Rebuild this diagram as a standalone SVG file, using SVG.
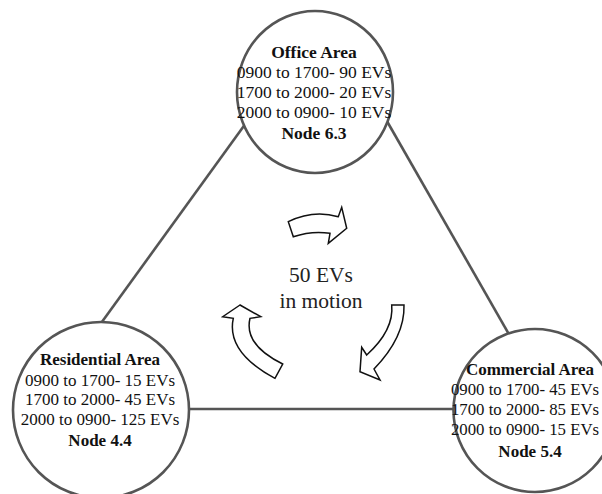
<svg xmlns="http://www.w3.org/2000/svg" width="602" height="494" viewBox="0 0 602 494">
<style>
.edge{stroke:#555;stroke-width:2.6;fill:none}
.node{stroke:#555;stroke-width:2.6;fill:#fff}
.t{font-family:"Liberation Serif","Times New Roman",serif;font-size:17px;fill:#111;text-anchor:middle}
.b{font-weight:bold}
.arrow{fill:#fff;stroke:#111;stroke-width:1.5;stroke-linejoin:miter}
.c{font-family:"Liberation Serif","Times New Roman",serif;font-size:21.5px;fill:#222;text-anchor:middle}
</style>
<rect width="602" height="494" fill="#fff"/>
<g id="connectors">
<line class="edge" x1="246" y1="123" x2="99" y2="326"/>
<line class="edge" x1="384" y1="116" x2="510" y2="336"/>
<line class="edge" x1="185" y1="409" x2="458" y2="409"/>
</g>
<g id="office">
<ellipse class="node" cx="315" cy="92" rx="78" ry="81"/>
<text class="t b" x="314" y="58" style="font-size:17.5px">Office Area</text>
<text class="t" x="314" y="78" style="font-size:17.5px">0900 to 1700- 90 EVs</text>
<text class="t" x="314" y="98" style="font-size:17.5px">1700 to 2000- 20 EVs</text>
<text class="t" x="314" y="118" style="font-size:17.5px">2000 to 0900- 10 EVs</text>
<text class="t b" x="314" y="139" style="font-size:17.5px">Node 6.3</text>
</g>
<g id="residential">
<circle class="node" cx="101" cy="410" r="88"/>
<text class="t b" x="100" y="365">Residential Area</text>
<text class="t" x="100" y="386">0900 to 1700- 15 EVs</text>
<text class="t" x="100" y="405">1700 to 2000- 45 EVs</text>
<text class="t" x="100" y="425">2000 to 0900- 125 EVs</text>
<text class="t b" x="100" y="446">Node 4.4</text>
</g>
<g id="commercial">
<circle class="node" cx="535" cy="410.5" r="81.5"/>
<text class="t b" x="530" y="375">Commercial Area</text>
<text class="t" x="525" y="395" style="font-size:16.8px">0900 to 1700- 45 EVs</text>
<text class="t" x="525" y="415" style="font-size:16.8px">1700 to 2000- 85 EVs</text>
<text class="t" x="525" y="435" style="font-size:16.8px">2000 to 0900- 15 EVs</text>
<text class="t b" x="530" y="457">Node 5.4</text>
</g>
<g id="motion">
<path class="arrow" d="M288.3,221.7 Q313,209.5 338.3,216.7 L341.7,207.3 L346.7,228.3 L328.3,243.3 L330,233.3 Q312,230.4 293.3,236.7 Z"/>
<path class="arrow" d="M240,305 L222.7,316.7 L233.3,318.3 Q226,352 275,378.3 L282.7,364 Q243.6,344.8 250,318.3 L260.7,316.7 Z"/>
<path class="arrow" d="M391.7,305 Q394.2,330 366.7,355 L361.7,347.3 L360,371.7 L380,380 L374,369 Q405,337 404,305 Z"/>
<text class="c" x="321" y="282">50 EVs</text>
<text class="c" x="321" y="308">in motion</text>
</g>
</svg>
